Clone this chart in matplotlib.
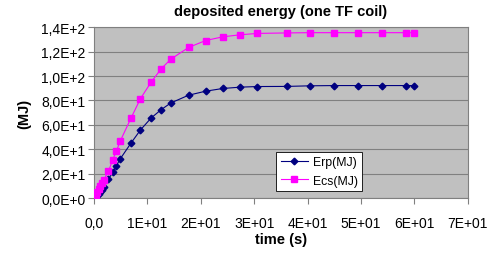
import numpy as np
import matplotlib.pyplot as plt
from matplotlib.ticker import FixedLocator

plt.rcParams['font.family'] = ['Liberation Sans', 'DejaVu Sans']

# tiempo (s)
t = [0, 0.3, 0.6, 0.9, 1.2, 1.5, 1.8, 2.7, 3.5, 4.2, 4.9, 6.9, 8.7, 10.7,
     12.6, 14.4, 17.7, 20.9, 24.1, 27.4, 30.6, 36.1, 40.5, 45.0, 49.4,
     54.0, 58.4, 60.0]
# energias (MJ)
erp = [0, 1.0, 2.5, 4.0, 5.5, 7.0, 9.0, 15.6, 21.3, 26.7, 32.2, 45.0, 55.9,
       65.7, 72.6, 78.0, 84.3, 87.6, 89.8, 90.9, 91.4, 91.5, 92.0, 92.2,
       92.2, 92.2, 92.2, 92.2]
ecs = [0, 2.5, 5.0, 7.5, 10.0, 12.5, 15.0, 22.0, 31.4, 38.7, 46.7, 65.3,
       81.5, 95.0, 106.0, 113.8, 123.3, 129.0, 132.0, 133.7, 134.8, 135.2,
       135.4, 135.4, 135.4, 135.4, 135.4, 135.4]

yticks = [0, 20, 40, 60, 80, 100, 120, 140]
ylabels = ['0,0E+0', '2,0E+1', '4,0E+1', '6,0E+1', '8,0E+1',
           '1,0E+2', '1,2E+2', '1,4E+2']
xticks = [0, 10, 20, 30, 40, 50, 60, 70]
xlabels = ['0,0', '1E+01', '2E+01', '3E+01', '4E+01', '5E+01', '6E+01', '7E+01']

fig = plt.figure(figsize=(4.92, 2.55), dpi=100)
ax = fig.add_axes([0.191, 0.218, 0.76, 0.672])
ax.set_facecolor('#C0C0C0')

ax.plot(t, erp, color='#000080', lw=0.8, marker='D', ms=3.4,
        label='Erp(MJ)', zorder=3)
ax.plot(t, ecs, color='#FF00FF', lw=0.8, marker='s', ms=3.8,
        label='Ecs(MJ)', zorder=3)

ax.set_xlim(0, 70)
ax.set_ylim(0, 140)
ax.xaxis.set_major_locator(FixedLocator(xticks))
ax.yaxis.set_major_locator(FixedLocator(yticks))
ax.set_xticklabels(xlabels, fontsize=10)
ax.set_yticklabels(ylabels, fontsize=10)
ax.tick_params(length=4, width=0.8, color='#808080')
ax.tick_params(axis='x', pad=9)
ax.tick_params(axis='y', pad=2)
ax.grid(True, axis='y', color='#808080', lw=0.8)
ax.set_axisbelow(True)
for s in ax.spines.values():
    s.set_color('#808080')
    s.set_linewidth(0.8)

#Titulos
ax.set_title('deposited energy (one TF coil)', fontsize=10.5,
             fontweight='bold', pad=9)
ax.set_xlabel('time (s)', fontsize=10.5, fontweight='bold', labelpad=1)
ax.set_ylabel('(MJ)', fontsize=10.5, fontweight='bold', labelpad=7)

leg = ax.legend(loc='lower left', bbox_to_anchor=(0.488, 0.044),
                fontsize=8.8, frameon=True, fancybox=False, borderpad=0.35,
                handlelength=2.2, handletextpad=0.4, labelspacing=0.5,
                borderaxespad=0)
leg.get_frame().set_edgecolor('black')
leg.get_frame().set_linewidth(0.6)
leg.get_frame().set_alpha(1)

fig.savefig('out.png', dpi=100)
